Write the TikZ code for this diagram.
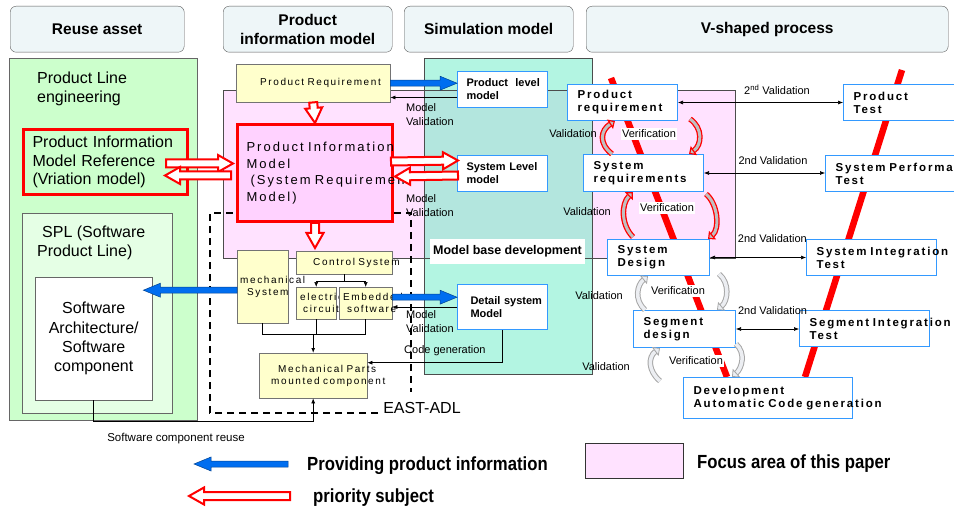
\documentclass[tikz,border=0pt]{standalone}
\usepackage{fontspec}
\setmainfont{Liberation Sans}
\newfontfamily\spaced[LetterSpace=16, WordSpace=1.6]{Liberation Sans}
\newfontfamily\narrow[FakeStretch=0.88]{Liberation Sans}
\usetikzlibrary{positioning}
\usetikzlibrary{calc}
\usetikzlibrary{arrows.meta}
\definecolor{headfill}{RGB}{238,246,248}
\definecolor{plgreen}{RGB}{204,255,204}
\definecolor{splgreen}{RGB}{229,255,229}
\definecolor{focus}{RGB}{255,226,255}
\definecolor{pimpink}{RGB}{255,210,255}
\definecolor{mint}{RGB}{179,245,226}
\definecolor{simteal}{RGB}{179,230,222}
\definecolor{creamfill}{RGB}{255,255,204}
\definecolor{boxblue}{RGB}{51,153,255}
\definecolor{provblue}{RGB}{0,110,240}
\definecolor{vgray}{RGB}{192,192,192}
\definecolor{lgray}{RGB}{236,238,242}

\tikzset{
  blockarrow/.style n args={3}{to path={
      ($(\tikztostart)!#1!90:(\tikztotarget)$)
      -- ($(\tikztotarget)!#3!(\tikztostart)!#1!90:(\tikztotarget)$)
      -- ($(\tikztotarget)!#3!(\tikztostart)!#2!90:(\tikztotarget)$)
      -- (\tikztotarget)
      -- ($(\tikztotarget)!#3!(\tikztostart)!#2!-90:(\tikztotarget)$)
      -- ($(\tikztotarget)!#3!(\tikztostart)!#1!-90:(\tikztotarget)$)
      -- ($(\tikztostart)!#1!-90:(\tikztotarget)$) -- cycle}},
  prio/.style={draw=red, line width=2pt, fill=white, line join=miter, blockarrow={4pt}{8.5pt}{15pt}},
  provide/.style={draw=provblue!60!black, line width=0.5pt, fill=provblue, blockarrow={3pt}{7pt}{17pt}}
}

\begin{document}
\begin{tikzpicture}[x=1pt, y=-1pt,
  header/.style={draw=black!65, fill=headfill, rounded corners=6pt, anchor=north west,
    minimum height=46pt, inner sep=0pt, align=center, font=\bfseries\fontsize{15.5}{19}\selectfont},
  region/.style={draw=black!60, anchor=north west, inner sep=0pt},
  bigtext/.style={inner sep=0pt, align=left, font=\fontsize{16}{19}\selectfont},
  creambox/.style={draw=black!55, fill=creamfill, anchor=north west, align=left,
    inner ysep=0pt, font=\spaced\fontsize{10}{12}\selectfont},
  simbox/.style={draw=boxblue, line width=1pt, fill=white, anchor=north west,
    align=left, inner ysep=0pt, inner xsep=10pt, font=\bfseries\fontsize{11}{13}\selectfont},
  vbox/.style={simbox, font=\spaced\bfseries\fontsize{11.5}{13}\selectfont},
  note/.style={inner sep=0pt, align=left, font=\fontsize{11}{14}\selectfont},
  whitenote/.style={note, fill=white, inner sep=1.5pt},
  legendtext/.style={anchor=west, inner sep=0pt, font=\narrow\bfseries\fontsize{19}{22}\selectfont},
  oneway/.style={line width=0.6pt, -{Latex[length=5pt, width=4pt]}},
  twoway/.style={line width=0.6pt, {Latex[length=5pt, width=4pt]}-{Latex[length=5pt, width=4pt]}},
  vline/.style={red, line width=6.5pt},
  adlline/.style={line width=1.3pt, dash pattern=on 7pt off 5pt},
  verifred/.style={draw=red, line width=1.3pt, double=vgray, double distance=3pt,
    -{Triangle[length=6pt, width=11pt, fill=vgray, line width=1.2pt]}},
  verifgray/.style={draw=gray!70, line width=1pt, double=lgray, double distance=3.5pt,
    -{Triangle[length=6pt, width=11pt, fill=lgray, line width=0.8pt]}}
]
\useasboundingbox (0,0) rectangle (954,508);

% column headers
\foreach \name/\x/\w/\txt in {reuse/10/174/{Reuse asset},
    pinfo/223/169/{Product\\information model},
    sim/404/169/{Simulation model},
    vproc/586/362/{V-shaped process}}
  \node[header, minimum width=\w pt] (h\name) at (\x,6) {\txt};

% --- reuse asset ---
\node[region, fill=plgreen, minimum width=188pt, minimum height=362pt] (pleregion) at (9,58) {};
\node[bigtext, anchor=west] (pletext) at (37,88.5) {Product Line\\engineering};
\node[region, draw=red, line width=3pt, fill=plgreen, text width=146pt, inner xsep=9pt,
  minimum height=65pt, align=left, font=\fontsize{16}{18.5}\selectfont] (pimref) at (22,128)
  {Product Information\\Model Reference\\(Vriation model)};
\node[region, fill=splgreen, minimum width=150pt, minimum height=200pt] (splregion) at (22,213) {};
\node[bigtext, anchor=west] (spltext) at (37,243) {\hspace*{5pt}SPL (Software\\Product Line)};
\node[region, fill=white, minimum width=117pt, minimum height=123pt, align=center,
  font=\fontsize{16}{19.3}\selectfont] (swarch) at (35,277) {Software\\Architecture/\\Software\\component};

% --- focus area and simulation model ---
\fill[focus] (223,90) rectangle (735,258);
\fill[mint] (424,58) rectangle (592,374);
\fill[simteal] (424,90) rectangle (592,258);
\draw[black!70] (223,90) rectangle (735,258);
\draw[black!70] (424,58) rectangle (592,374);

% EAST-ADL frame
\draw[adlline] (378,413) -- (210,413) -- (210,213) -- (411,213) -- (411,392);
\node[inner sep=0pt, font=\fontsize{16}{19}\selectfont] (eastadl) at (422,408) {EAST-ADL};

% V legs
\draw[vline] (611,78) -- (727,377);
\draw[vline] (902,70) -- (805,377);

% --- product information model ---
\node[creambox, text width=106pt, inner xsep=24pt, minimum height=38pt] (preqy) at (236,64)
  {\mbox{Product Requirement}};
\node[region, draw=red, line width=3pt, fill=pimpink, text width=137pt, inner xsep=9pt,
  minimum height=97pt, align=left, font=\spaced\fontsize{13}{16.7}\selectfont] (pim) at (236,123)
  {\mbox{Product Information}\\Model\\\hspace*{4pt}\mbox{(System Requirement}\\Model)};
\node[creambox, text width=45pt, inner xsep=3pt, minimum height=73pt] (mech) at (237,250)
  {\mbox{mechanical}\\\mbox{\hspace*{7pt}System}};
\node[creambox, text width=62pt, inner xsep=17pt, minimum height=23pt] (ctrl) at (296,251)
  {\mbox{Control System}};
\node[creambox, text width=32pt, inner xsep=4pt, minimum height=32pt] (elec) at (296,287)
  {\mbox{electric}\\\mbox{\hspace*{3pt}circuit}};
\node[creambox, text width=45pt, inner xsep=4pt, minimum height=32pt] (emb) at (339,287)
  {\mbox{Embedded}\\\mbox{\hspace*{4pt}software}};
\node[creambox, text width=84pt, inner xsep=12pt, minimum height=45pt] (mparts) at (259,353)
  {\mbox{\hspace*{7pt}Mechanical Parts}\\\mbox{mounted component}};

% --- simulation models ---
\node[simbox, text width=72pt, inner xsep=9pt, minimum height=36pt] (prodl) at (457,71) {\mbox{Product\ \ level}\\model};
\node[simbox, text width=72pt, inner xsep=9pt, minimum height=36pt] (sysl) at (457,155) {\mbox{System Level}\\model};
\node[simbox, text width=64pt, inner xsep=13pt, minimum height=45pt] (detail) at (457,284) {\mbox{Detail system}\\Model};
\node[fill=white, inner sep=0pt, minimum width=155pt, minimum height=25pt,
  font=\bfseries\fontsize{12.5}{15}\selectfont] (mbd) at (507.5,251.5) {Model base development};

% --- V-shaped process ---
\node[note] (val1) at (573,134) {Validation};
\node[note] (val2) at (587,212) {Validation};
\node[note] (val3) at (599,296) {Validation};
\node[note] (val4) at (606,367) {Validation};
\node[whitenote] (ver1) at (649,134) {Verification};
\node[whitenote] (ver2) at (667,208) {Verification};
\node[whitenote] (ver3) at (678,291) {Verification};
\node[whitenote] (ver4) at (696,361) {Verification};

\node[vbox, text width=90pt, minimum height=36pt] (preq) at (567,84) {Product\\requirement};
\node[vbox, text width=100pt, minimum height=37pt] (sreq) at (583,154) {System\\requirements};
\node[vbox, text width=82pt, minimum height=36pt] (sdes) at (607,239) {System\\Design};
\node[vbox, text width=82pt, minimum height=37pt] (segd) at (633,310) {Segment\\design};
\node[vbox, text width=149pt, minimum height=41pt] (dev) at (683,377) {Development\\\mbox{Automatic Code generation}};
\node[vbox, text width=110pt, minimum height=36pt] (ptest) at (843,84) {Product\\Test};
\node[vbox, text width=130pt, minimum height=36pt] (sperf) at (825,155) {\mbox{System Performance}\\Test};
\node[vbox, text width=110pt, minimum height=36pt] (sint) at (806,239) {\mbox{System Integration}\\Test};
\node[vbox, text width=110pt, minimum height=36pt] (segint) at (799,310) {\mbox{Segment Integration}\\Test};

% verification loops
\draw[verifred] ($(sreq.north west)+(29,0)$) .. controls +(-14,-11) and +(-14,9) .. ($(preq.south west)+(48,0)$);
\draw[verifred] ($(preq.south east)+(12,-2)$) .. controls +(13,9) and +(13,-9) .. ($(sreq.north east)+(-15,0)$);
\draw[verifred] ($(sdes.north west)+(26,-2)$) .. controls +(-12,-12) and +(-12,12) .. ($(sreq.south west)+(50,0)$);
\draw[verifred] ($(sreq.south east)+(2,2)$) .. controls +(12,10) and +(12,-10) .. ($(sdes.north east)+(-2,0)$);
\draw[verifgray] ($(segd.north west)+(12,0)$) .. controls +(-11,-10) and +(-11,9) .. ($(sdes.south west)+(41,0)$);
\draw[verifgray] ($(sdes.south east)+(9,-2)$) .. controls +(11,9) and +(11,-9) .. ($(segd.north west)+(84,0)$);
\draw[verifgray] ($(dev.north west)+(-23,4)$) .. controls +(-12,-10) and +(-12,9) .. ($(segd.south west)+(27,0)$);
\draw[verifgray] ($(segd.south east)+(0,-4)$) .. controls +(10,9) and +(10,-9) .. ($(dev.north west)+(49,0)$);

% 2nd validation
\draw[twoway] (preq.east) -- (preq.east -| ptest.west)
  node[note, pos=0.6, above=8pt] {2\textsuperscript{nd} Validation};
\draw[twoway] (sreq.east) -- (sreq.east -| sperf.west)
  node[note, pos=0.57, above=8pt] {2nd Validation};
\draw[twoway] (sdes.east) -- (sdes.east -| sint.west)
  node[note, pos=0.65, above=15pt] {2nd Validation};
\draw[twoway] (segd.east) -- (segd.east -| segint.west)
  node[note, pos=0.58, above=14pt] {2nd Validation};

% --- connectors ---
\coordinate (ctrlfork) at ($(ctrl.south)+(0,7)$);
\draw[line width=0.6pt] (ctrl.south) -- (ctrlfork);
\draw[oneway] (ctrlfork) -| (elec.north);
\draw[oneway] (ctrlfork) -| (emb.north);
\coordinate (merge) at ($(mparts.north)+(0,-19)$);
\draw[line width=0.6pt] (mech.south) |- (merge);
\draw[line width=0.6pt] (elec.south) |- (merge);
\draw[line width=0.6pt] (emb.south) |- (merge);
\draw[oneway, line width=1.1pt] (merge) -- (mparts.north);
\draw[oneway] (swarch.south) -- ++(0,21) -| (mparts.south);
\draw[oneway] (detail.south) |- ($(mparts.east)+(0,-13)$);
\draw[oneway] ($(prodl.west)+(0,8)$) -- ($(prodl.west -| preqy.east)+(0,8)$);
\draw[oneway] (detail.west) -- (detail.west -| emb.east);

% providing product information
\draw[provide] (preqy.east) to (preqy.east -| prodl.west);
\draw[provide] ($(emb.east)+(0,-6)$) to ($(emb.east -| detail.west)+(0,-6)$);
\draw[provide] ($(mech.west)+(0,3.5)$) to ($(mech.west -| swarch.east)+(-9,3.5)$);

% priority subject
\draw[prio] (preqy.south) to (pim.north);
\draw[prio] (pim.south) to ($(pim.south |- ctrl.north)+(0,-3)$);
\draw[prio] ($(pimref.east)+(-23,1.5)$) to ($(pim.west)+(-3,-9.5)$);
\draw[prio] ($(pim.west)+(-5,2.5)$) to ($(pimref.east)+(-24,13.5)$);
\draw[prio] ($(pim.east)+(-3,-11.5)$) to ($(sysl.west)+(1,-13)$);
\draw[prio] ($(sysl.west)+(1,2)$) to ($(pim.east)+(1,3.5)$);

\node[note, anchor=west] (mv1) at (406,115) {Model\\Validation};
\node[note, anchor=west] (mv2) at (406,205.5) {Model\\Validation};
\node[note, anchor=west] (mv3) at (406,322) {Model\\Validation};
\node[note, anchor=west] (codegen) at (404,351) {Code generation};
\node[note, font=\fontsize{11.5}{14}\selectfont] (swreuse) at (176,439) {Software component reuse};

% --- legend ---
\coordinate (keyblue) at (288,464);
\coordinate (keyblueend) at (194,464);
\coordinate (keyred) at (290,496);
\coordinate (keyredend) at (189,496);
\draw[provide] (keyblue) to (keyblueend);
\draw[prio] (keyred) to (keyredend);
\node[legendtext] (keyprovtext) at (307,466) {Providing product information};
\node[legendtext] (keypriotext) at (313,498) {priority subject};
\node[draw=black!80, fill=focus, anchor=north west, minimum width=98pt, minimum height=35pt,
  inner sep=0pt] (keyfocus) at (585,443) {};
\node[legendtext] (keyfocustext) at (697,464) {Focus area of this paper};
\end{tikzpicture}
\end{document}
